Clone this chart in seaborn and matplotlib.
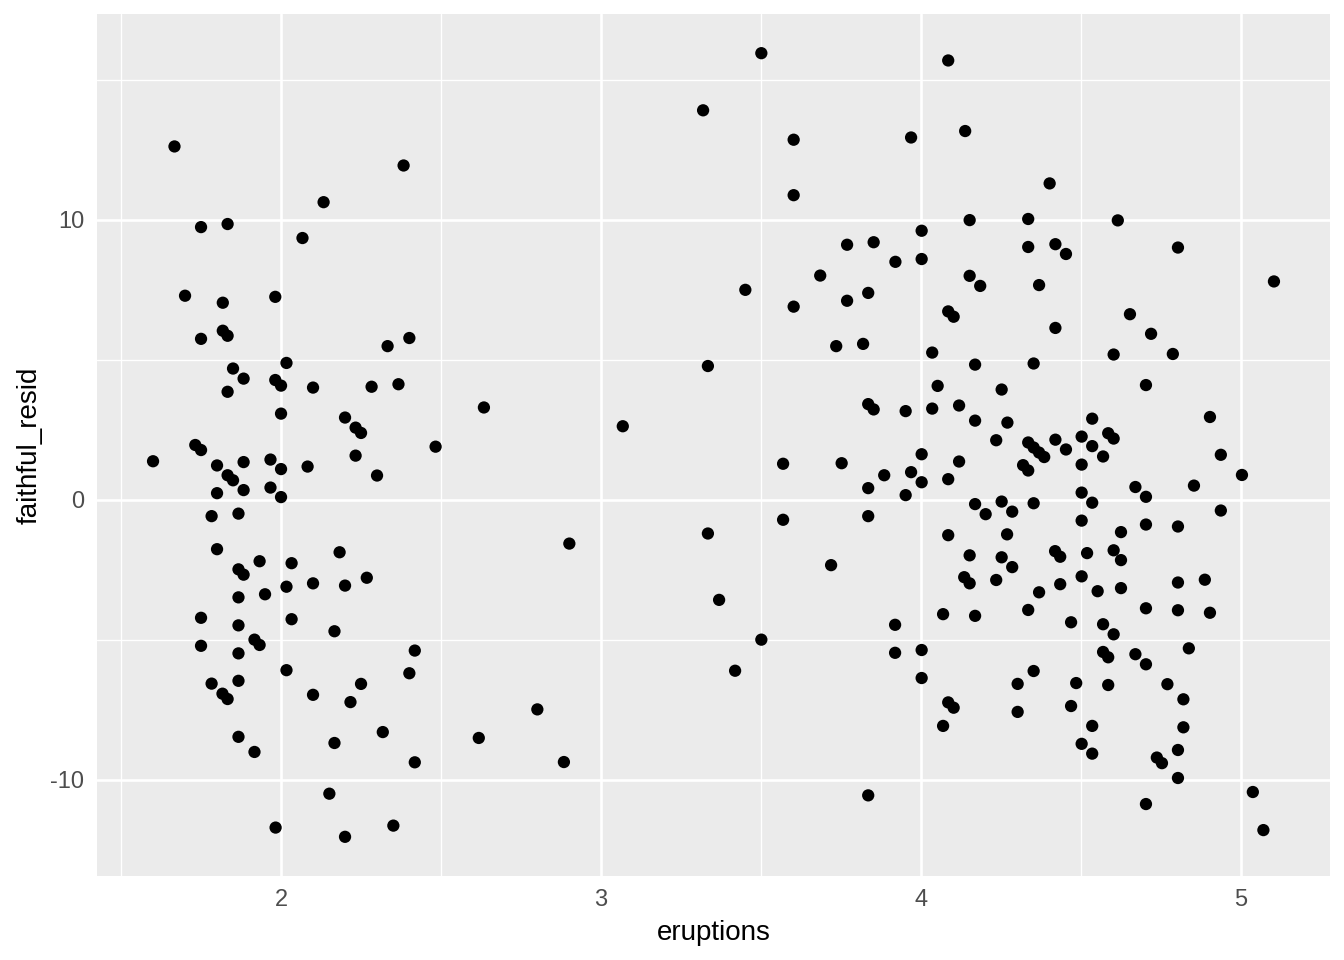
import matplotlib
matplotlib.use("Agg")
import matplotlib.pyplot as plt
import seaborn as sns
import pandas as pd
from matplotlib.ticker import FixedLocator

eruptions = [
    1.600, 1.667, 1.700, 1.732, 1.750, 1.750, 1.750, 1.750, 1.750, 1.783,
    1.783, 1.800, 1.800, 1.800, 1.818, 1.818, 1.833, 1.833, 1.833, 1.833,
    1.817, 1.833, 1.850, 1.850, 1.867, 1.867, 1.883, 1.867, 1.867, 1.867,
    1.867, 1.867, 1.883, 1.883, 1.883, 1.917, 1.933, 1.917, 1.933, 1.950,
    1.967, 1.967, 1.982, 1.982, 1.983, 2.000, 2.000, 2.000, 2.000, 2.017,
    2.017, 2.017, 2.033, 2.033, 2.067, 2.083, 2.100, 2.100, 2.100, 2.133,
    2.151, 2.167, 2.167, 2.183, 2.200, 2.200, 2.200, 2.217, 2.233, 2.233,
    2.250, 2.250, 2.268, 2.283, 2.300, 2.318, 2.333, 2.351, 2.367, 2.383,
    2.401, 2.401, 2.418, 2.418, 2.483,
    2.618, 2.634, 2.801, 2.884, 2.901, 3.068, 3.319, 3.334, 3.334, 3.369,
    3.419, 3.451, 3.501, 3.501, 3.569, 3.569, 3.602, 3.602, 3.602,
    3.685, 3.719, 3.735, 3.752, 3.769, 3.769, 3.819, 3.835, 3.835, 3.835,
    3.835, 3.835, 3.852, 3.852, 3.885, 3.920, 3.919, 3.919, 3.952, 3.952,
    3.969, 3.969, 4.002, 4.002, 4.002, 4.002, 4.002, 4.002, 4.035, 4.052,
    4.035, 4.069, 4.069, 4.085, 4.085, 4.102, 4.085, 4.085, 4.085, 4.102,
    4.119, 4.119, 4.138, 4.135, 4.152, 4.152, 4.152, 4.152, 4.169, 4.169,
    4.169, 4.169, 4.185, 4.202, 4.235, 4.235, 4.252, 4.252, 4.252, 4.270,
    4.269, 4.285, 4.285, 4.302, 4.302, 4.319, 4.335, 4.335, 4.335, 4.335,
    4.335, 4.352, 4.352, 4.352, 4.352, 4.369, 4.369, 4.369, 4.385, 4.402,
    4.420, 4.420, 4.420, 4.419, 4.435, 4.435, 4.453, 4.453, 4.469, 4.469,
    4.485, 4.502, 4.502, 4.502, 4.502, 4.502, 4.502, 4.519, 4.535, 4.535,
    4.535, 4.535, 4.535, 4.552, 4.569, 4.569, 4.569, 4.585, 4.585, 4.585,
    4.602, 4.602, 4.602, 4.602, 4.615, 4.625, 4.625, 4.625, 4.653, 4.670,
    4.670, 4.703, 4.703, 4.703, 4.703, 4.703, 4.703, 4.719, 4.737, 4.753,
    4.770, 4.787, 4.803, 4.803, 4.803, 4.803, 4.803, 4.803, 4.820, 4.820,
    4.837, 4.853, 4.887, 4.903, 4.903, 4.937, 4.937, 5.003, 5.037, 5.070,
    5.103,
]

faithful_resid = [
    1.38, 12.62, 7.29, 1.96, 9.74, 5.75, 1.78, -4.21, -5.21, -0.58,
    -6.56, 1.23, 0.24, -1.76, 7.04, 6.04, 5.86, 9.85, 3.86, 0.88,
    -6.92, -7.11, 4.69, 0.70, -0.49, -2.48, -2.67, -3.48, -4.48, -5.48,
    -6.46, -8.46, 4.33, 1.35, 0.35, -4.99, -5.18, -9.00, -2.19, -3.37,
    1.44, 0.44, 7.25, 4.28, -11.70, 4.08, 3.08, 1.10, 0.10, 4.89,
    -3.10, -6.08, -2.26, -4.26, 9.35, 1.19, 4.01, -2.98, -6.96, 10.63,
    -10.49, -4.69, -8.68, -1.87, 2.94, -3.06, -12.03, -7.22, 2.58, 1.58,
    2.39, -6.57, -2.78, 4.04, 0.87, -8.29, 5.49, -11.63, 4.13, 11.94,
    5.78, -6.19, -5.38, -9.37, 1.90,
    -8.50, 3.30, -7.48, -9.36, -1.56, 2.63, 13.91, 4.78, -1.20, -3.57,
    -6.10, 7.50, 15.95, -4.99, 1.29, -0.71, 12.86, 10.88, 6.90,
    8.01, -2.33, 5.49, 1.31, 9.11, 7.11, 5.57, 7.39, 3.42, 0.42,
    -0.58, -10.55, 9.20, 3.23, 0.88, 8.50, -4.46, -5.46, 3.17, 0.17,
    12.94, 0.99, 9.61, 8.60, 1.63, 0.63, -5.36, -6.36, 5.26, 4.07,
    3.26, -4.08, -8.07, 15.69, 6.73, 6.54, 0.74, -1.26, -7.23, -7.42,
    3.37, 1.37, 13.17, -2.76, 9.99, 8.00, -1.98, -2.98, 4.83, 2.83,
    -0.15, -4.14, 7.64, -0.51, 2.13, -2.86, 3.94, -0.06, -2.05, 2.76,
    -1.23, -0.42, -2.40, -6.57, -7.57, 1.24, 10.03, 9.03, 2.05, 1.05,
    -3.93, 4.87, 1.87, -0.12, -6.11, 7.67, 1.69, -3.30, 1.53, 11.30,
    9.13, 6.14, 2.15, -1.83, -2.03, -3.01, 8.78, 1.80, -4.37, -7.36,
    -6.54, 2.26, 1.26, 0.26, -0.74, -2.73, -8.71, -1.90, 2.90, 1.92,
    -0.10, -8.07, -9.06, -3.26, 1.55, -4.44, -5.43, 2.38, -5.62, -6.61,
    5.19, 2.19, -1.80, -4.80, 9.98, -1.15, -2.15, -3.15, 6.63, 0.46,
    -5.51, 4.10, 0.11, -0.88, -3.87, -5.87, -10.86, 5.93, -9.20, -9.40,
    -6.58, 5.21, 9.01, -0.95, -2.95, -3.94, -8.93, -9.93, -7.12, -8.12,
    -5.30, 0.51, -2.85, 2.96, -4.03, 1.61, -0.38, 0.89, -10.43, -11.79,
    7.80,
]

x_ticks = [2, 3, 4, 5]
y_ticks = [-10, 0, 10]
x_minor = [1.5, 2.5, 3.5, 4.5]
y_minor = [-5, 5, 15]

df = pd.DataFrame({"eruptions": eruptions, "faithful_resid": faithful_resid})

sns.set_style("darkgrid")
plt.rcParams["font.family"] = ["Liberation Sans", "DejaVu Sans"]

fig = plt.figure(figsize=(13.44, 9.6), dpi=100)
ax = fig.add_axes([97 / 1344, 1 - 876 / 960, (1330 - 97) / 1344, (876 - 14) / 960])
ax.set_facecolor("#EBEBEB")

sns.scatterplot(data=df, x="eruptions", y="faithful_resid", ax=ax,
                color="black", s=78, edgecolor="none", linewidth=0, zorder=3)

xmin, xmax = min(eruptions), max(eruptions)
ymin, ymax = min(faithful_resid), max(faithful_resid)
xr, yr = xmax - xmin, ymax - ymin
ax.set_xlim(xmin - 0.05 * xr, xmax + 0.05 * xr)
ax.set_ylim(ymin - 0.05 * yr, ymax + 0.05 * yr)

ax.xaxis.set_major_locator(FixedLocator(x_ticks))
ax.yaxis.set_major_locator(FixedLocator(y_ticks))
ax.xaxis.set_minor_locator(FixedLocator(x_minor))
ax.yaxis.set_minor_locator(FixedLocator(y_minor))
ax.set_xticklabels([str(v) for v in x_ticks])
ax.set_yticklabels([str(v) for v in y_ticks])

ax.grid(which="major", color="white", linewidth=1.9, zorder=0)
ax.grid(which="minor", color="white", linewidth=0.95, zorder=0)
ax.set_axisbelow(True)
for sp in ax.spines.values():
    sp.set_visible(False)

ax.tick_params(axis="both", which="major", length=5, width=1.1, color="#333333",
               labelsize=17, labelcolor="#4D4D4D", pad=4)
ax.tick_params(axis="both", which="minor", length=0)

ax.set_xlabel("eruptions", fontsize=20, color="black", labelpad=7)
ax.set_ylabel("faithful_resid", fontsize=20, color="black", labelpad=6)

fig.savefig("out.png", dpi=100)
